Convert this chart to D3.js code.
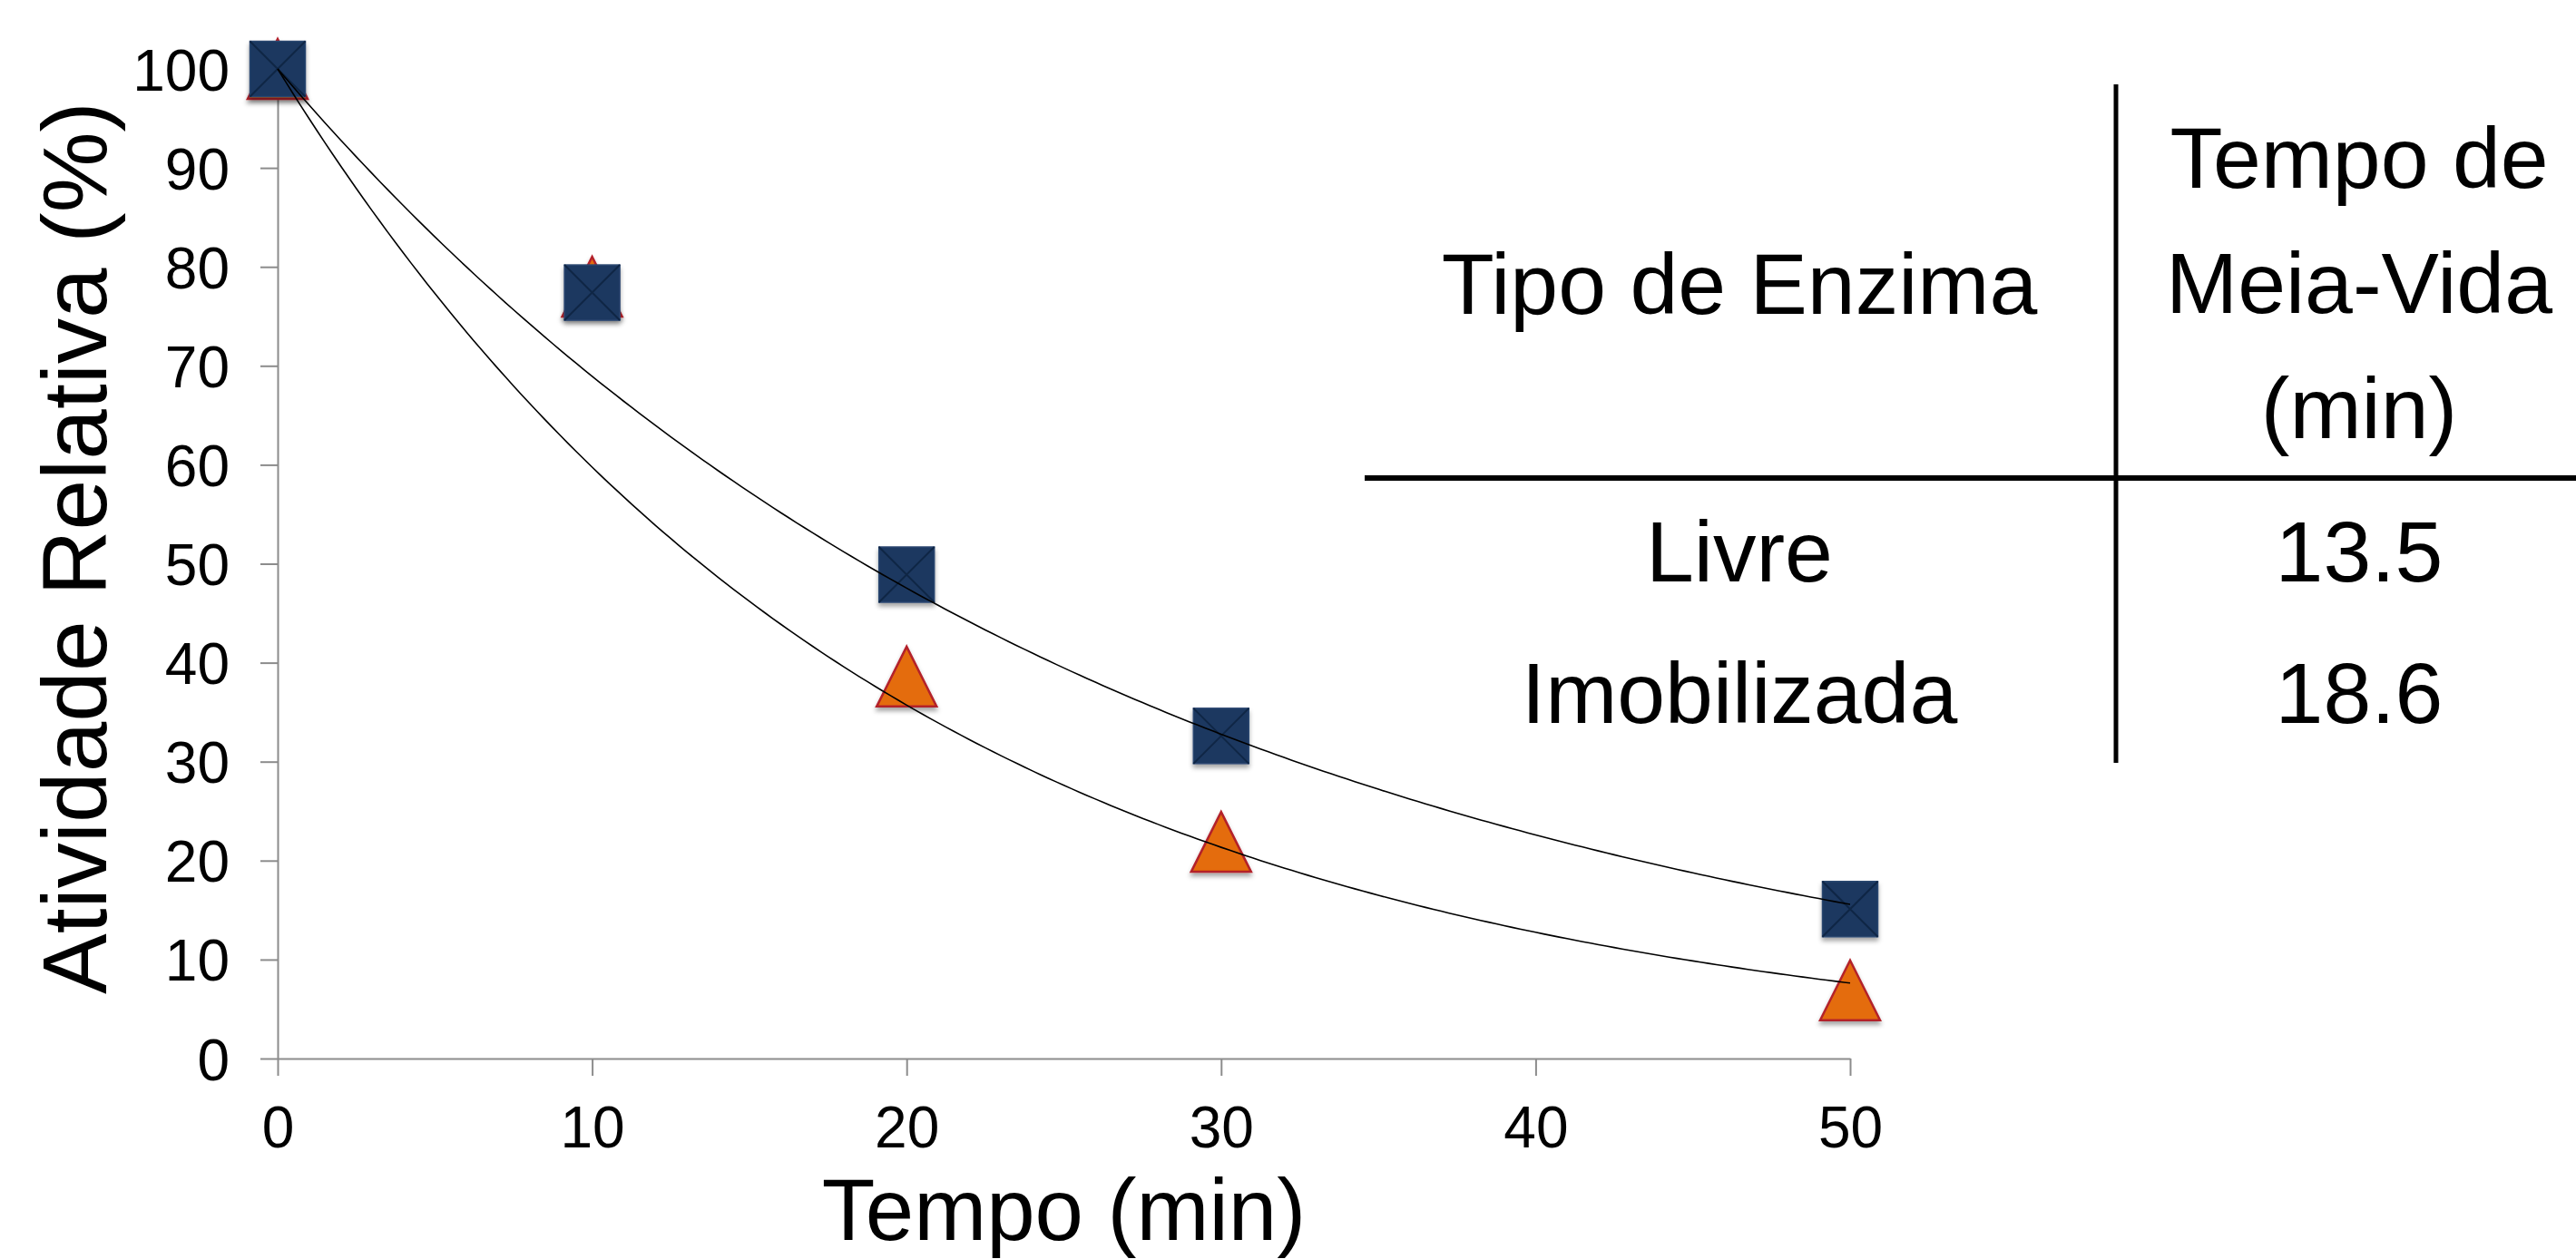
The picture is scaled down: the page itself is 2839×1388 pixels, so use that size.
<!DOCTYPE html>
<html>
<head>
<meta charset="utf-8">
<script src="https://cdn.jsdelivr.net/npm/d3@7"></script>
<style>
  body { margin: 0; background: #fff; }
  svg { display: block; }
</style>
</head>
<body>
<div id="chart"></div>
<script>
// Data
const tempo = [0, 10, 20, 30, 50];
const livre = [100, 78.0, 38.6, 21.9, 6.9];
const imobilizada = [100, 77.4, 48.9, 32.6, 15.1];
const yTicks = [0, 10, 20, 30, 40, 50, 60, 70, 80, 90, 100];
const xTicks = [0, 10, 20, 30, 40, 50];

// Half-life table
const headerLeft = ["Tipo de Enzima"];
const headerRight = ["Tempo de", "Meia-Vida", "(min)"];
const enzymeTypes = ["Livre", "Imobilizada"];
const halfLives = ["13.5", "18.6"];

const width = 2839;
const height = 1388;
const font = "'Liberation Sans', Arial, sans-serif";

const svg = d3.select("#chart")
    .append("svg")
    .attr("width", width)
    .attr("height", height)
    .style("font-family", font);

svg.append("rect")
    .attr("width", width)
    .attr("height", height)
    .attr("fill", "white");

// Drop shadow for the markers
const defs = svg.append("defs");
defs.append("filter")
    .attr("id", "shadow")
    .attr("x", "-30%").attr("y", "-30%")
    .attr("width", "160%").attr("height", "160%")
    .append("feDropShadow")
    .attr("dx", 0)
    .attr("dy", 4)
    .attr("stdDeviation", 2.5)
    .attr("flood-color", "#000")
    .attr("flood-opacity", 0.35);

// Scales
const x = d3.scaleLinear()
    .domain([0, 50])
    .range([306, 2039]);

const y = d3.scaleLinear()
    .domain([0, 100])
    .range([1167, 76]);

// Axes
const yAxis = svg.append("g")
    .attr("transform", `translate(${x(0)},0)`)
    .call(d3.axisLeft(y).tickValues(yTicks).tickSize(19).tickSizeOuter(0).tickPadding(34));

const xAxis = svg.append("g")
    .attr("transform", `translate(0,${y(0)})`)
    .call(d3.axisBottom(x).tickValues(xTicks).tickSize(19).tickSizeOuter(0).tickPadding(34));

[yAxis, xAxis].forEach(function (g) {
    g.attr("font-family", font).attr("font-size", 64);
    g.select(".domain").attr("stroke", "#8c8c8c").attr("stroke-width", 2);
    g.selectAll(".tick line").attr("stroke", "#8c8c8c").attr("stroke-width", 2);
    g.selectAll(".tick text").attr("fill", "#000");
});
yAxis.selectAll(".tick text").attr("dy", "0.36em");

// Axis titles
svg.append("text")
    .attr("x", x(25))
    .attr("y", 1367)
    .attr("text-anchor", "middle")
    .attr("font-size", 96)
    .text("Tempo (min)");

svg.append("text")
    .attr("transform", "translate(117,604) rotate(-90)")
    .attr("text-anchor", "middle")
    .attr("font-size", 100)
    .text("Atividade Relativa (%)");

// Exponential trendline with intercept fixed at 100 (least squares on ln y)
function fitRate(xs, ys) {
    let sxy = 0, sxx = 0;
    xs.forEach(function (xv, i) {
        sxy += xv * Math.log(ys[i] / 100);
        sxx += xv * xv;
    });
    return sxy / sxx;
}

const curveX = d3.range(0, 50.001, 0.25);
const line = d3.line()
    .x(d => x(d[0]))
    .y(d => y(d[1]));

// Triangles (Livre) drawn first, squares (Imobilizada) on top
const triSize = 66;
svg.append("g")
    .selectAll("path")
    .data(tempo.map((t, i) => [t, livre[i]]))
    .enter()
    .append("path")
    .attr("transform", d => `translate(${x(d[0])},${y(d[1])})`)
    .attr("d", `M0,${-triSize / 2}L${triSize / 2},${triSize / 2}L${-triSize / 2},${triSize / 2}Z`)
    .attr("fill", "#e46c0a")
    .attr("stroke", "#b3202b")
    .attr("stroke-width", 2.5)
    .attr("stroke-linejoin", "miter")
    .attr("filter", "url(#shadow)");

const sq = 61;
const squares = svg.append("g")
    .selectAll("g")
    .data(tempo.map((t, i) => [t, imobilizada[i]]))
    .enter()
    .append("g")
    .attr("transform", d => `translate(${x(d[0])},${y(d[1])})`);

squares.append("rect")
    .attr("x", -sq / 2)
    .attr("y", -sq / 2)
    .attr("width", sq)
    .attr("height", sq)
    .attr("fill", "#1b3761")
    .attr("stroke", "#2c4770")
    .attr("stroke-width", 1.5)
    .attr("filter", "url(#shadow)");

squares.append("path")
    .attr("d", `M${-sq / 2},${-sq / 2}L${sq / 2},${sq / 2}M${sq / 2},${-sq / 2}L${-sq / 2},${sq / 2}`)
    .attr("stroke", "#0f2645")
    .attr("stroke-width", 2);

// Trendlines on top of the markers
[livre, imobilizada].forEach(function (series) {
    const k = fitRate(tempo, series);
    svg.append("path")
        .datum(curveX.map(t => [t, 100 * Math.exp(k * t)]))
        .attr("fill", "none")
        .attr("stroke", "#000")
        .attr("stroke-width", 1.6)
        .attr("d", line);
});

// Table
const table = svg.append("g").attr("font-size", 95).attr("text-anchor", "middle");

table.append("line")
    .attr("x1", 2332).attr("x2", 2332)
    .attr("y1", 93).attr("y2", 841)
    .attr("stroke", "#000")
    .attr("stroke-width", 5);

table.append("line")
    .attr("x1", 1504).attr("x2", width)
    .attr("y1", 527).attr("y2", 527)
    .attr("stroke", "#000")
    .attr("stroke-width", 6);

const leftCol = 1917;
const rightCol = 2600;

table.selectAll(".hl")
    .data(headerLeft)
    .enter()
    .append("text")
    .attr("x", leftCol)
    .attr("y", 346)
    .text(d => d);

table.selectAll(".hr")
    .data(headerRight)
    .enter()
    .append("text")
    .attr("x", rightCol)
    .attr("y", (d, i) => 207 + i * 138)
    .text(d => d);

table.selectAll(".type")
    .data(enzymeTypes)
    .enter()
    .append("text")
    .attr("x", leftCol)
    .attr("y", (d, i) => 641 + i * 156)
    .text(d => d);

table.selectAll(".half")
    .data(halfLives)
    .enter()
    .append("text")
    .attr("x", rightCol)
    .attr("y", (d, i) => 641 + i * 156)
    .text(d => d);
</script>
</body>
</html>
